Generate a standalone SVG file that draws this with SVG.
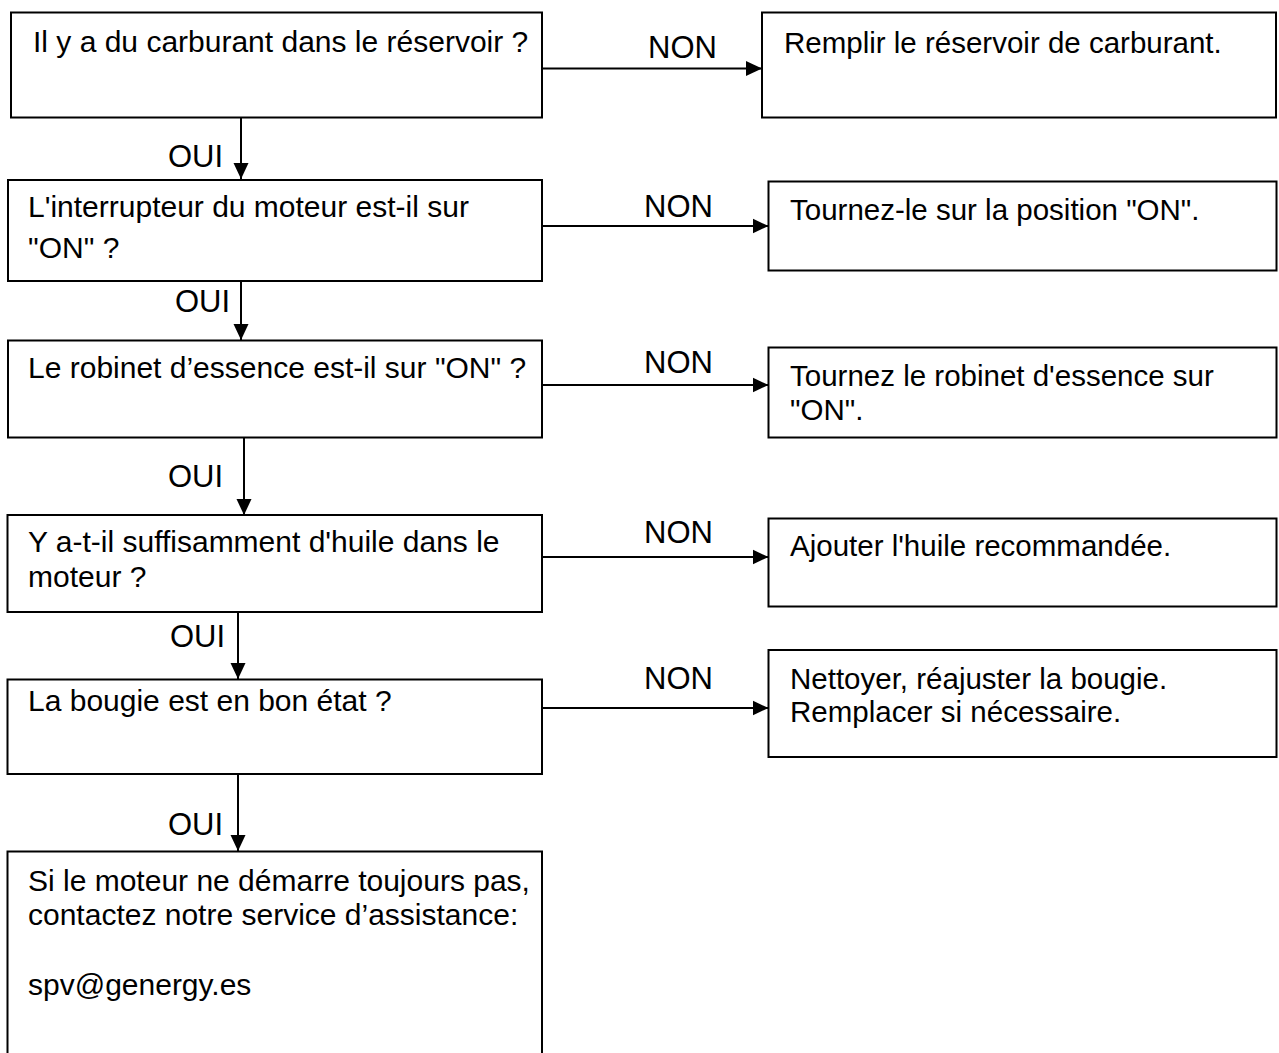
<svg xmlns="http://www.w3.org/2000/svg" width="1279" height="1053" viewBox="0 0 1279 1053">
<defs>
<style>
.box{fill:#fff;stroke:#000;stroke-width:2}
.t{font-family:"Liberation Sans",Arial,sans-serif;font-size:30px;fill:#000}
.r{font-family:"Liberation Sans",Arial,sans-serif;font-size:29.5px;fill:#000}
.lbl{font-family:"Liberation Sans",Arial,sans-serif;font-size:31px;fill:#000}
.c{stroke:#000;stroke-width:2;fill:none;marker-end:url(#ah)}
</style>
<marker id="ah" markerUnits="userSpaceOnUse" markerWidth="17" markerHeight="17" viewBox="0 0 17 17" refX="16" refY="8.5" orient="auto">
<path d="M0,1 L16,8.5 L0,16 Z" fill="#000"/>
</marker>
</defs>
<rect width="1279" height="1053" fill="#fff"/>
<g id="connectors">
<line class="c" x1="542" y1="68.5" x2="762" y2="68.5"/>
<line class="c" x1="542" y1="226" x2="768.5" y2="226"/>
<line class="c" x1="542" y1="385" x2="768.5" y2="385"/>
<line class="c" x1="542" y1="557" x2="768.5" y2="557"/>
<line class="c" x1="542" y1="708" x2="768.5" y2="708"/>
<line class="c" x1="241" y1="117.5" x2="241" y2="179"/>
<line class="c" x1="241" y1="278" x2="241" y2="340"/>
<line class="c" x1="244" y1="437.5" x2="244" y2="515"/>
<line class="c" x1="238" y1="607" x2="238" y2="679"/>
<line class="c" x1="238" y1="774" x2="238" y2="851"/>
<text class="lbl" x="648" y="58">NON</text>
<text class="lbl" x="644" y="217">NON</text>
<text class="lbl" x="644" y="373">NON</text>
<text class="lbl" x="644" y="543">NON</text>
<text class="lbl" x="644" y="689">NON</text>
<text class="lbl" x="168" y="167">OUI</text>
<text class="lbl" x="175" y="312">OUI</text>
<text class="lbl" x="168" y="487">OUI</text>
<text class="lbl" x="170" y="647">OUI</text>
<text class="lbl" x="168" y="835">OUI</text>
</g>
<g id="q1">
<rect class="box" x="11" y="12.5" width="531" height="105"/>
<text class="t" x="33" y="52">Il y a du carburant dans le réservoir ?</text>
</g>
<g id="a1">
<rect class="box" x="762" y="12.5" width="514" height="105"/>
<text class="r" x="784" y="53">Remplir le réservoir de carburant.</text>
</g>
<g id="q2">
<rect class="box" x="8" y="180" width="534" height="101"/>
<text class="t" x="28" y="217">L'interrupteur du moteur est-il sur</text>
<text class="t" x="28" y="258">"ON" ?</text>
</g>
<g id="a2">
<rect class="box" x="768.5" y="181.5" width="508" height="89"/>
<text class="r" x="790" y="220">Tournez-le sur la position "ON".</text>
</g>
<g id="q3">
<rect class="box" x="8" y="340.5" width="534" height="97"/>
<text class="t" x="28" y="378">Le robinet d’essence est-il sur "ON" ?</text>
</g>
<g id="a3">
<rect class="box" x="768.5" y="347.5" width="508" height="90"/>
<text class="r" x="790" y="386">Tournez le robinet d'essence sur</text>
<text class="r" x="790" y="420">"ON".</text>
</g>
<g id="q4">
<rect class="box" x="7.5" y="515" width="534.5" height="97"/>
<text class="t" x="28" y="552">Y a-t-il suffisamment d'huile dans le</text>
<text class="t" x="28" y="587">moteur ?</text>
</g>
<g id="a4">
<rect class="box" x="768.5" y="518.5" width="508" height="88"/>
<text class="r" x="790" y="556">Ajouter l'huile recommandée.</text>
</g>
<g id="q5">
<rect class="box" x="7.5" y="679.5" width="534.5" height="94.5"/>
<text class="t" x="28" y="711">La bougie est en bon état ?</text>
</g>
<g id="a5">
<rect class="box" x="768.5" y="650" width="508" height="107"/>
<text class="r" x="790" y="689">Nettoyer, réajuster la bougie.</text>
<text class="r" x="790" y="722">Remplacer si nécessaire.</text>
</g>
<g id="end">
<path class="box" d="M7.5,1060 V851.5 H542 V1060"/>
<text class="t" x="28" y="891">Si le moteur ne démarre toujours pas,</text>
<text class="t" x="28" y="925">contactez notre service d’assistance:</text>
<text class="t" x="28" y="995">spv@genergy.es</text>
</g>
</svg>
